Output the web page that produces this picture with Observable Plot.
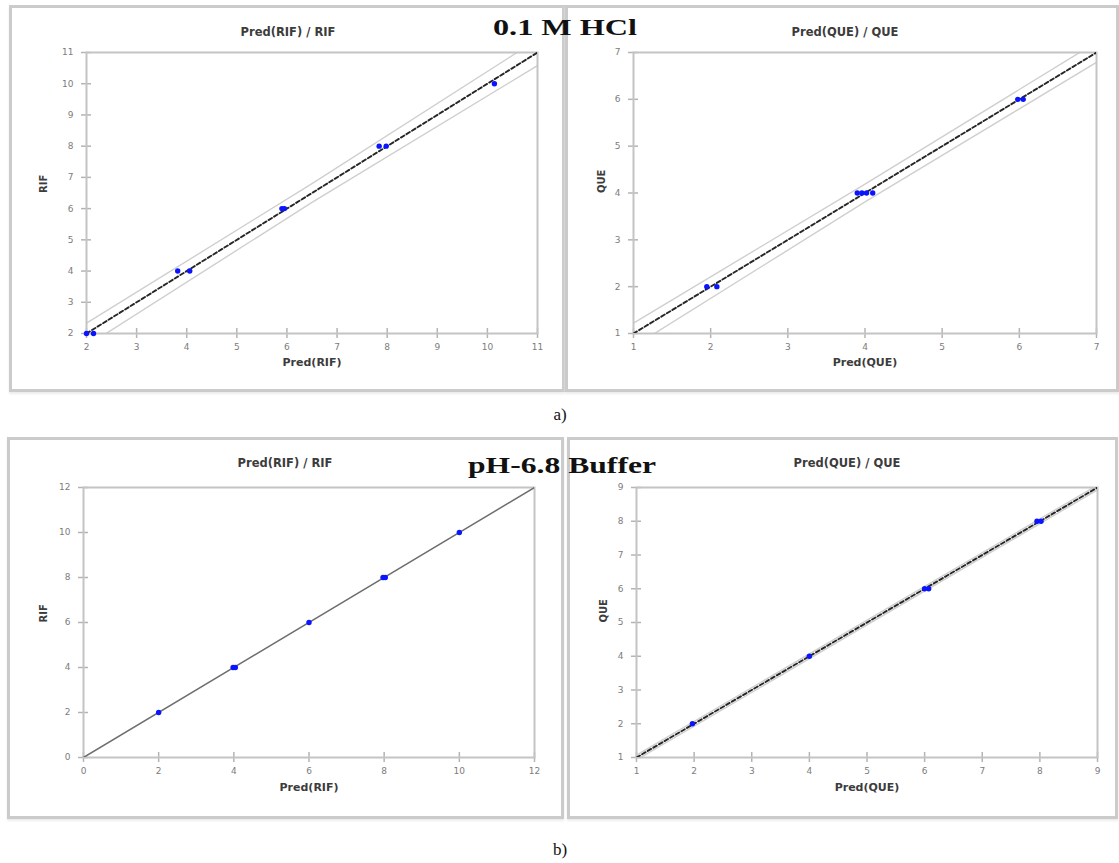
<!DOCTYPE html>
<html><head><meta charset="utf-8">
<script src="https://cdn.jsdelivr.net/npm/d3@7"></script>
<script src="https://cdn.jsdelivr.net/npm/@observablehq/plot@0.6"></script>
<style>
html,body{margin:0;padding:0;background:#fff}
body{width:1119px;height:863px;position:relative;overflow:hidden;font-family:"DejaVu Sans",sans-serif}
.box{position:absolute;border:3px solid #cbcbcb;box-sizing:border-box;box-shadow:0 2px 2px #ececec}
.plot{position:absolute}
#overlay{position:absolute;left:0;top:0;pointer-events:none}
</style>
</head><body>
<div class="box" style="left:9px;top:5px;width:556px;height:387px"></div>
<div class="box" style="left:565px;top:5px;width:554px;height:387px"></div>
<div class="box" style="left:7px;top:437px;width:557px;height:382px"></div>
<div class="box" style="left:567px;top:437px;width:551px;height:382px"></div>
<div id="p1" class="plot"></div>
<div id="p2" class="plot"></div>
<div id="p3" class="plot"></div>
<div id="p4" class="plot"></div>
<svg id="overlay" width="1119" height="863">
  <text x="493" y="35" font-family="Liberation Serif" font-weight="bold" font-size="24" textLength="144" lengthAdjust="spacingAndGlyphs" fill="#111">0.1 M HCl</text>
  <text x="468" y="473" font-family="Liberation Serif" font-weight="bold" font-size="24" textLength="188" lengthAdjust="spacingAndGlyphs" fill="#111">pH-6.8 Buffer</text>
  <text x="560" y="420" text-anchor="middle" font-family="Liberation Serif" font-size="17" fill="#111">a)</text>
  <text x="560" y="855" text-anchor="middle" font-family="Liberation Serif" font-size="17" fill="#111">b)</text>
</svg>
<script>
// ---- data ----
const rifHclPred = [2.0, 2.14, 3.82, 4.06, 5.9, 5.95, 7.84, 7.98, 10.14];
const rifHclObs  = [2, 2, 4, 4, 6, 6, 8, 8, 10];
const rifHclTicks = [2, 3, 4, 5, 6, 7, 8, 9, 10, 11];
const rifHclBandX  = [2, 6.5, 11];
const rifHclBandUp = [2.33, 6.8, 11.42];
const rifHclBandLo = [1.6, 6.2, 10.58];

const queHclPred = [1.95, 2.08, 3.9, 3.96, 4.02, 4.1, 5.98, 6.05];
const queHclObs  = [2, 2, 4, 4, 4, 4, 6, 6];
const queHclTicks = [1, 2, 3, 4, 5, 6, 7];
const queHclBandX  = [1, 4, 7];
const queHclBandUp = [1.22, 4.19, 7.22];
const queHclBandLo = [0.72, 3.81, 6.79];

const rifBufPred = [2.0, 3.98, 4.04, 6.0, 7.97, 8.03, 10.0];
const rifBufObs  = [2, 4, 4, 6, 8, 8, 10];
const rifBufTicks = [0, 2, 4, 6, 8, 10, 12];

const queBufPred = [1.97, 4.0, 6.0, 6.07, 7.95, 8.02];
const queBufObs  = [2, 4, 6, 6, 8, 8];
const queBufTicks = [1, 2, 3, 4, 5, 6, 7, 8, 9];
const queBufBandX  = [1, 9];
const queBufBandUp = [1.07, 9.07];
const queBufBandLo = [0.93, 8.93];

const titles  = ["Pred(RIF) / RIF", "Pred(QUE) / QUE", "Pred(RIF) / RIF", "Pred(QUE) / QUE"];
const xLabels = ["Pred(RIF)", "Pred(QUE)", "Pred(RIF)", "Pred(QUE)"];
const yLabels = ["RIF", "QUE", "RIF", "QUE"];

function panel(o) {
  const domain = [o.ticks[0], o.ticks[o.ticks.length - 1]];
  const pts = o.pred.map((p, i) => ({x: p, y: o.obs[i]}));
  const marks = [];
  if (o.bandX) {
    const up = o.bandX.map((x, i) => ({x, y: o.bandUp[i]}));
    const lo = o.bandX.map((x, i) => ({x, y: o.bandLo[i]}));
    marks.push(Plot.line(up, {x: "x", y: "y", stroke: "#cfcfcf", strokeWidth: 1.4, clip: true}));
    marks.push(Plot.line(lo, {x: "x", y: "y", stroke: "#cfcfcf", strokeWidth: 1.4, clip: true}));
  }
  // cross-shaped ticks
  marks.push(Plot.axisX(o.ticks, {tickSize: 10, dy: -5, stroke: "#b4b4b4", strokeWidth: 1.5, tickFormat: () => "", label: null}));
  marks.push(Plot.axisY(o.ticks, {tickSize: 10, dx: 5, stroke: "#b4b4b4", strokeWidth: 1.5, tickFormat: () => "", label: null}));
  marks.push(Plot.axisX(o.ticks, {tickSize: 0, tickPadding: 10, fill: "#7c7c7c", fontSize: 9, label: null}));
  marks.push(Plot.axisY(o.ticks, {tickSize: 0, tickPadding: 13, fill: "#7c7c7c", fontSize: 9, label: null}));
  marks.push(Plot.frame({stroke: "#c4c4c4", strokeWidth: 2}));
  marks.push(Plot.line([domain[0], domain[1]].map(v => ({x: v, y: v})), {x: "x", y: "y", stroke: o.diagColor, strokeWidth: o.diagWidth, strokeDasharray: o.dash, clip: true}));
  marks.push(Plot.dot(pts, {x: "x", y: "y", r: 2.7, fill: "#0a14ff", stroke: null}));
  marks.push(Plot.text([o.title], {text: d => d, frameAnchor: "top", dx: o.titleDx, dy: o.titleDy, fontWeight: "bold", fontSize: 11.5, fill: "#3c3c3c"}));
  marks.push(Plot.text([o.xLabel], {text: d => d, frameAnchor: "bottom", dy: o.xlDy, fontWeight: "bold", fontSize: 11, fill: "#3c3c3c"}));
  marks.push(Plot.text([o.yLabel], {text: d => d, frameAnchor: "left", dx: o.ylDx, rotate: -90, fontWeight: "bold", fontSize: 10, fill: "#3c3c3c"}));
  const svg = Plot.plot({
    width: o.width, height: o.height,
    marginTop: o.mt, marginRight: o.mr, marginBottom: o.mb, marginLeft: o.ml,
    x: {domain}, y: {domain},
    style: {fontFamily: "DejaVu Sans, sans-serif", background: "transparent", overflow: "visible"},
    marks
  });
  const el = document.getElementById(o.id);
  el.style.left = o.left + "px"; el.style.top = o.top + "px";
  el.appendChild(svg);
}

panel({id: "p1", left: 11, top: 8, width: 552, height: 380, mt: 44, mr: 26, mb: 55, ml: 75,
  ticks: rifHclTicks, pred: rifHclPred, obs: rifHclObs,
  bandX: rifHclBandX, bandUp: rifHclBandUp, bandLo: rifHclBandLo,
  diagColor: "#262626", diagWidth: 1.9, dash: "4,2.5",
  title: titles[0], xLabel: xLabels[0], yLabel: yLabels[0], titleDx: -24, titleDy: -25, xlDy: 32, ylDx: -43});

panel({id: "p2", left: 567, top: 8, width: 549, height: 380, mt: 44, mr: 20, mb: 55, ml: 66,
  ticks: queHclTicks, pred: queHclPred, obs: queHclObs,
  bandX: queHclBandX, bandUp: queHclBandUp, bandLo: queHclBandLo,
  diagColor: "#262626", diagWidth: 1.9, dash: "4,2.5",
  title: titles[1], xLabel: xLabels[1], yLabel: yLabels[1], titleDx: -20, titleDy: -25, xlDy: 32, ylDx: -32});

panel({id: "p3", left: 9, top: 440, width: 553, height: 376, mt: 47, mr: 28, mb: 59, ml: 74,
  ticks: rifBufTicks, pred: rifBufPred, obs: rifBufObs,
  diagColor: "#6e6e6e", diagWidth: 1.5, dash: null,
  title: titles[2], xLabel: xLabels[2], yLabel: yLabels[2], titleDx: -24, titleDy: -29, xlDy: 33, ylDx: -40});

panel({id: "p4", left: 569, top: 440, width: 547, height: 376, mt: 47, mr: 19, mb: 59, ml: 67,
  ticks: queBufTicks, pred: queBufPred, obs: queBufObs,
  bandX: queBufBandX, bandUp: queBufBandUp, bandLo: queBufBandLo,
  diagColor: "#262626", diagWidth: 1.9, dash: "4,2.5",
  title: titles[3], xLabel: xLabels[3], yLabel: yLabels[3], titleDx: -20, titleDy: -29, xlDy: 33, ylDx: -33});
</script>
</body></html>
